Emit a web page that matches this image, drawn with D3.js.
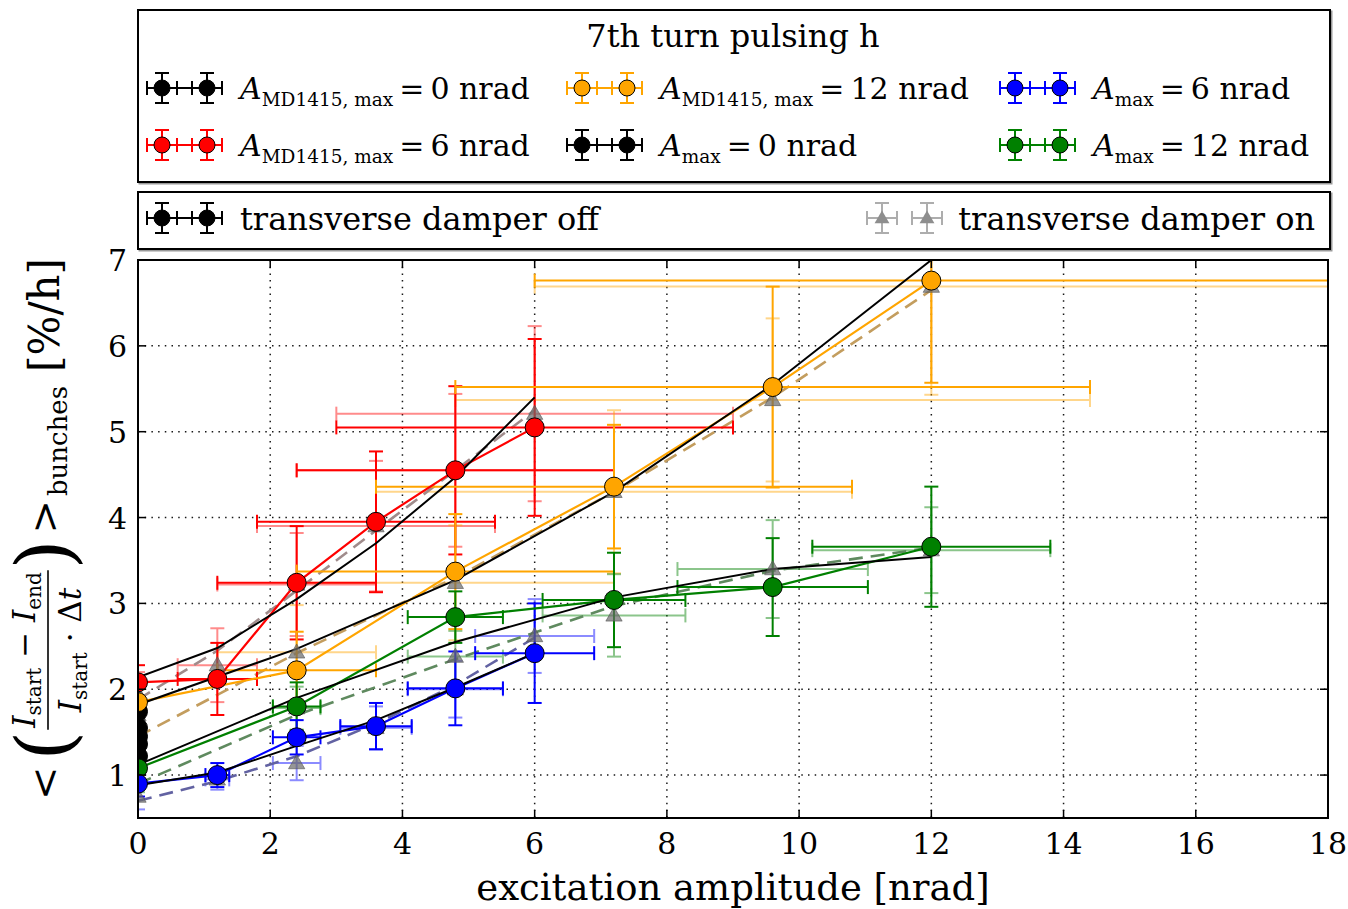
<!DOCTYPE html>
<html>
<head>
<meta charset="utf-8">
<script src="https://cdn.jsdelivr.net/npm/d3@7"></script>
<style>
  html, body { margin: 0; padding: 0; background: #ffffff; }
  svg { display: block; }
  text { font-family: "DejaVu Serif", "Liberation Serif", serif; fill: #000; }
</style>
</head>
<body>
<svg id="chart" width="1348" height="909"></svg>
<script>
// ---------------- data ----------------
const xTicks = [0, 2, 4, 6, 8, 10, 12, 14, 16, 18];
const yTicks = [1, 2, 3, 4, 5, 6, 7];

const legendTitle = "7th turn pulsing h";

// excitation amplitudes [nrad]
const ampZeroMD = [0, 0, 0];
const ampZeroA  = [0, 0];
const ampMD6  = [0, 1.2, 2.4, 3.6, 4.8, 6];
const ampMD12 = [0, 2.4, 4.8, 7.2, 9.6, 12];
const ampA6   = [0, 1.2, 2.4, 3.6, 4.8, 6];
const ampA12  = [0, 2.4, 4.8, 7.2, 9.6, 12];

// A_MD1415,max = 0 nrad (repeated runs without excitation)
const md0Off = [1.74, 1.55, 1.36], md0OffErr = [0.10, 0.10, 0.10];
const md0On  = [1.70, 1.50, 1.32], md0OnErr  = [0.12, 0.12, 0.12];
// A_max = 0 nrad
const a0Off = [1.45, 1.22], a0OffErr = [0.08, 0.08];
const a0On  = [1.40, 1.18], a0OnErr  = [0.10, 0.10];

// A_MD1415,max = 6 nrad
const md6Off    = [2.08, 2.12, 3.24, 3.95, 4.55, 5.05];
const md6OffErr = [0.20, 0.42, 0.66, 0.82, 0.98, 1.03];
const md6On     = [1.95, 2.28, 3.22, 3.90, 4.55, 5.21];
const md6OnErr  = [0.25, 0.43, 0.60, 0.76, 0.89, 1.02];
const md6FitOff = [2.14, 2.48, 3.05, 3.70, 4.47, 5.40];
const md6FitOn  = [1.88, 2.45, 3.15, 3.85, 4.55, 5.25];

// A_MD1415,max = 12 nrad
const md12Off    = [1.85, 2.22, 3.37, 4.36, 5.52, 6.76];
const md12OffErr = [0.15, 0.45, 0.67, 0.72, 1.17, 1.19];
const md12On     = [1.50, 2.43, 3.24, 4.30, 5.37, 6.69];
const md12OnErr  = [0.20, 0.55, 0.67, 0.95, 0.95, 1.26];
const md12FitOff = [1.82, 2.47, 3.27, 4.30, 5.55, 7.00];
const md12FitOn  = [1.45, 2.42, 3.30, 4.30, 5.40, 6.65];

// A_max = 6 nrad
const a6Off    = [0.90, 1.00, 1.44, 1.57, 2.01, 2.42];
const a6OffErr = [0.15, 0.14, 0.20, 0.27, 0.43, 0.58];
const a6On     = [0.75, 0.95, 1.14, 1.55, 2.00, 2.62];
const a6OnErr  = [0.15, 0.12, 0.20, 0.25, 0.33, 0.43];
const a6FitOff = [0.88, 1.03, 1.34, 1.64, 2.02, 2.42];
const a6FitOn  = [0.70, 0.93, 1.22, 1.60, 2.05, 2.60];

// A_max = 12 nrad
const a12Off    = [1.08, 1.80, 2.84, 3.04, 3.19, 3.66];
const a12OffErr = [0.12, 0.28, 0.30, 0.55, 0.57, 0.70];
const a12On     = [0.95, 1.78, 2.38, 2.86, 3.40, 3.62];
const a12OnErr  = [0.15, 0.25, 0.30, 0.48, 0.57, 0.50];
const a12FitOff = [1.12, 1.90, 2.55, 3.07, 3.40, 3.54];
const a12FitOn  = [0.90, 1.70, 2.35, 2.97, 3.38, 3.65];

// relative horizontal error of the amplitude
const xRelMD = 0.5;
const xRelA  = 0.15;

// ---------------- series table ----------------
const series = [
  { amp: ampZeroMD, off: md0Off, offErr: md0OffErr, on: md0On, onErr: md0OnErr, xrel: 0, color: "#000000" },
  { amp: ampZeroA,  off: a0Off,  offErr: a0OffErr,  on: a0On,  onErr: a0OnErr,  xrel: 0, color: "#000000" },
  { amp: ampMD6,  off: md6Off,  offErr: md6OffErr,  on: md6On,  onErr: md6OnErr,  fitOff: md6FitOff,  fitOn: md6FitOn,  xrel: xRelMD, color: "#ff0000", dash: "#a08c8c" },
  { amp: ampMD12, off: md12Off, offErr: md12OffErr, on: md12On, onErr: md12OnErr, fitOff: md12FitOff, fitOn: md12FitOn, xrel: xRelMD, color: "#ffa500", dash: "#c39d5e" },
  { amp: ampA12,  off: a12Off,  offErr: a12OffErr,  on: a12On,  onErr: a12OnErr,  fitOff: a12FitOff,  fitOn: a12FitOn,  xrel: xRelA,  color: "#008000", dash: "#5f8a5f" },
  { amp: ampA6,   off: a6Off,   offErr: a6OffErr,   on: a6On,   onErr: a6OnErr,   fitOff: a6FitOff,   fitOn: a6FitOn,   xrel: xRelA,  color: "#0000ff", dash: "#6262a2" }
];

// ---------------- layout ----------------
const svg = d3.select("#chart");
const plot = { left: 138, right: 1328, top: 260, bottom: 818 };
const x = d3.scaleLinear().domain([0, 18]).range([plot.left, plot.right]);
const y = d3.scaleLinear().domain([0.5, 7]).range([plot.bottom, plot.top]);
const CAP = 7;

svg.append("rect").attr("width", 1348).attr("height", 909).attr("fill", "#fff");

svg.append("defs").append("clipPath").attr("id", "plotclip")
  .append("rect")
  .attr("x", plot.left).attr("y", plot.top)
  .attr("width", plot.right - plot.left).attr("height", plot.bottom - plot.top);

// grid
const grid = svg.append("g").attr("stroke", "#000").attr("stroke-width", 1.5)
  .attr("stroke-dasharray", "1.5,5.2").attr("opacity", 0.9);
xTicks.filter(t => t > 0 && t < 18).forEach(t => {
  grid.append("line").attr("x1", x(t)).attr("x2", x(t)).attr("y1", plot.top).attr("y2", plot.bottom);
});
yTicks.filter(t => t < 7).forEach(t => {
  grid.append("line").attr("x1", plot.left).attr("x2", plot.right).attr("y1", y(t)).attr("y2", y(t));
});

const body = svg.append("g").attr("clip-path", "url(#plotclip)");

function points(s, vals, errs) {
  return s.amp.map((a, i) => ({ x: a, y: vals[i], xe: a * s.xrel, ye: errs[i] }));
}

function errorbars(g, pts, color, opacity) {
  const eg = g.append("g").attr("stroke", color).attr("stroke-width", 2).attr("opacity", opacity).attr("fill", "none");
  pts.forEach(p => {
    if (p.xe > 0) {
      const x0 = x(p.x - p.xe), x1 = x(p.x + p.xe), yy = y(p.y);
      eg.append("line").attr("x1", x0).attr("x2", x1).attr("y1", yy).attr("y2", yy);
      eg.append("line").attr("x1", x0).attr("x2", x0).attr("y1", yy - CAP).attr("y2", yy + CAP);
      eg.append("line").attr("x1", x1).attr("x2", x1).attr("y1", yy - CAP).attr("y2", yy + CAP);
    }
    const xx = x(p.x), y0 = y(p.y - p.ye), y1 = y(p.y + p.ye);
    eg.append("line").attr("x1", xx).attr("x2", xx).attr("y1", y0).attr("y2", y1);
    eg.append("line").attr("x1", xx - CAP).attr("x2", xx + CAP).attr("y1", y0).attr("y2", y0);
    eg.append("line").attr("x1", xx - CAP).attr("x2", xx + CAP).attr("y1", y1).attr("y2", y1);
  });
}

const line = d3.line().x(d => x(d[0])).y(d => y(d[1]));
const tri = d3.symbol().type(d3.symbolTriangle).size(115);

// damper on: error bars
series.forEach(s => errorbars(body, points(s, s.on, s.onErr), s.color, 0.45));
// damper on: dashed fits
series.filter(s => s.fitOn).forEach(s => {
  body.append("path").attr("d", line(s.amp.map((a, i) => [a, s.fitOn[i]])))
    .attr("fill", "none").attr("stroke", s.dash).attr("stroke-width", 2.6)
    .attr("stroke-dasharray", "14,8");
});
// damper off: error bars
series.forEach(s => errorbars(body, points(s, s.off, s.offErr), s.color, 1));
// damper off: connecting lines
series.filter(s => s.amp.length > 1).forEach(s => {
  body.append("path").attr("d", line(s.amp.map((a, i) => [a, s.off[i]])))
    .attr("fill", "none").attr("stroke", s.color).attr("stroke-width", 2.2);
});
// damper off: fits
series.filter(s => s.fitOff).forEach(s => {
  body.append("path").attr("d", line(s.amp.map((a, i) => [a, s.fitOff[i]])))
    .attr("fill", "none").attr("stroke", "#000").attr("stroke-width", 2);
});
// damper on: triangles
series.forEach(s => {
  s.amp.forEach((a, i) => {
    body.append("path").attr("d", tri)
      .attr("transform", `translate(${x(a)},${y(s.on[i]) + 1})`)
      .attr("fill", "#6a6a6a").attr("fill-opacity", 0.7)
      .attr("stroke", "#555").attr("stroke-opacity", 0.6).attr("stroke-width", 1);
  });
});
// damper off: circles
series.forEach(s => {
  s.amp.forEach((a, i) => {
    body.append("circle").attr("cx", x(a)).attr("cy", y(s.off[i])).attr("r", 9.5)
      .attr("fill", s.color).attr("stroke", "#000").attr("stroke-width", 1);
  });
});

// frame
svg.append("rect").attr("x", plot.left).attr("y", plot.top)
  .attr("width", plot.right - plot.left).attr("height", plot.bottom - plot.top)
  .attr("fill", "none").attr("stroke", "#000").attr("stroke-width", 2);

// inward ticks on all four sides
const tk = svg.append("g").attr("stroke", "#000").attr("stroke-width", 1.5);
xTicks.forEach(t => {
  tk.append("line").attr("x1", x(t)).attr("x2", x(t)).attr("y1", plot.bottom).attr("y2", plot.bottom - 8);
  tk.append("line").attr("x1", x(t)).attr("x2", x(t)).attr("y1", plot.top).attr("y2", plot.top + 8);
});
yTicks.forEach(t => {
  tk.append("line").attr("x1", plot.left).attr("x2", plot.left + 8).attr("y1", y(t)).attr("y2", y(t));
  tk.append("line").attr("x1", plot.right).attr("x2", plot.right - 8).attr("y1", y(t)).attr("y2", y(t));
});

// tick labels
svg.append("g").selectAll("text").data(xTicks).join("text")
  .attr("x", d => x(d)).attr("y", 854).attr("text-anchor", "middle")
  .attr("font-size", 30).text(d => d);
svg.append("g").selectAll("text").data(yTicks).join("text")
  .attr("x", 127).attr("y", d => y(d) + 11).attr("text-anchor", "end")
  .attr("font-size", 30).text(d => d);

// x label
svg.append("text").attr("x", 733).attr("y", 900).attr("text-anchor", "middle")
  .attr("font-size", 37).text("excitation amplitude [nrad]");

// y label (rotated math expression)
(function () {
  const g = svg.append("g");
  const items = [];
  function txt(size, v, str) {
    return g.append("text").attr("font-size", size).attr("y", v).text(str);
  }
  function add(el, gap) { items.push({ el, w: el.node().getComputedTextLength(), gap }); }

  add(txt(40, 0, "<"), 6);
  add(txt(76, 13, "("), 0);

  const num = g.append("text").attr("font-size", 31).attr("y", -23).attr("text-anchor", "middle");
  num.append("tspan").attr("font-style", "italic").text("I");
  num.append("tspan").attr("font-size", 20).attr("dy", 6).text("start");
  num.append("tspan").attr("dy", -6).text(" − ");
  num.append("tspan").attr("font-style", "italic").text("I");
  num.append("tspan").attr("font-size", 20).attr("dy", 6).text("end");
  const den = g.append("text").attr("font-size", 31).attr("y", 23).attr("text-anchor", "middle");
  den.append("tspan").attr("font-style", "italic").text("I");
  den.append("tspan").attr("font-size", 20).attr("dy", 6).text("start");
  den.append("tspan").attr("dy", -6).text(" · Δ");
  den.append("tspan").attr("font-style", "italic").text("t");
  const fw = Math.max(num.node().getComputedTextLength(), den.node().getComputedTextLength()) + 6;
  const bar = g.append("line").attr("y1", -10).attr("y2", -10).attr("stroke", "#000").attr("stroke-width", 1.6);
  items.push({ frac: true, num, den, bar, w: fw, gap: 0 });

  add(txt(76, 13, ")"), 6);
  add(txt(40, 0, ">"), 4);
  add(txt(26, 9, "bunches"), 14);
  add(txt(42, 1, "[%/h]"), 0);

  let u = 0;
  items.forEach(it => {
    if (it.frac) {
      it.num.attr("x", u + it.w / 2);
      it.den.attr("x", u + it.w / 2);
      it.bar.attr("x1", u + 1).attr("x2", u + it.w - 1);
    } else {
      it.el.attr("x", u);
    }
    u += it.w + it.gap;
  });
  const total = u;
  g.attr("transform", `translate(58, ${529 + total / 2}) rotate(-90)`);
})();

// ---------------- legends ----------------
function legendBox(x0, y0, w, h) {
  svg.append("rect").attr("x", x0 + 1.5).attr("y", y0 + 1.5).attr("width", w).attr("height", h)
    .attr("fill", "none").attr("stroke", "#9a9a9a").attr("stroke-width", 2);
  svg.append("rect").attr("x", x0).attr("y", y0).attr("width", w).attr("height", h)
    .attr("fill", "#fff").attr("stroke", "#000").attr("stroke-width", 2);
}

function handle(cx1, cx2, cy, color, kind, opacity) {
  const g = svg.append("g").attr("opacity", opacity);
  const hg = g.append("g").attr("stroke", color).attr("stroke-width", 2).attr("fill", "none");
  [cx1, cx2].forEach(c => {
    hg.append("line").attr("x1", c - 15).attr("x2", c + 15).attr("y1", cy).attr("y2", cy);
    hg.append("line").attr("x1", c - 15).attr("x2", c - 15).attr("y1", cy - CAP).attr("y2", cy + CAP);
    hg.append("line").attr("x1", c + 15).attr("x2", c + 15).attr("y1", cy - CAP).attr("y2", cy + CAP);
    hg.append("line").attr("x1", c).attr("x2", c).attr("y1", cy - 15).attr("y2", cy + 15);
    hg.append("line").attr("x1", c - CAP).attr("x2", c + CAP).attr("y1", cy - 15).attr("y2", cy - 15);
    hg.append("line").attr("x1", c - CAP).attr("x2", c + CAP).attr("y1", cy + 15).attr("y2", cy + 15);
  });
  if (kind === "circle") {
    hg.append("line").attr("x1", cx1).attr("x2", cx2).attr("y1", cy).attr("y2", cy);
    [cx1, cx2].forEach(c => g.append("circle").attr("cx", c).attr("cy", cy).attr("r", 8)
      .attr("fill", color).attr("stroke", "#000").attr("stroke-width", 1));
  } else {
    [cx1, cx2].forEach(c => g.append("path").attr("d", d3.symbol().type(d3.symbolTriangle).size(95))
      .attr("transform", `translate(${c},${cy + 1})`).attr("fill", "#444"));
  }
}

function mathLabel(tx, ty, sub, value) {
  const t = svg.append("text").attr("x", tx).attr("y", ty).attr("font-size", 30);
  t.append("tspan").attr("font-style", "italic").text("A");
  t.append("tspan").attr("font-size", 18.5).attr("dy", 7).text(sub);
  t.append("tspan").attr("dy", -7).text("\u2009=\u2009" + value + " nrad");
}

legendBox(138, 10, 1192, 172);
svg.append("text").attr("x", 733).attr("y", 47).attr("text-anchor", "middle")
  .attr("font-size", 32).text(legendTitle);

const legendEntries = [
  { tx: 240,  ty: 99,  color: "#000000", sub: "MD1415, max", value: 0 },
  { tx: 240,  ty: 156, color: "#ff0000", sub: "MD1415, max", value: 6 },
  { tx: 660,  ty: 99,  color: "#ffa500", sub: "MD1415, max", value: 12 },
  { tx: 660,  ty: 156, color: "#000000", sub: "max", value: 0 },
  { tx: 1093, ty: 99,  color: "#0000ff", sub: "max", value: 6 },
  { tx: 1093, ty: 156, color: "#008000", sub: "max", value: 12 }
];
legendEntries.forEach(e => {
  handle(e.tx - 78, e.tx - 33, e.ty - 11, e.color, "circle", 1);
  mathLabel(e.tx, e.ty, e.sub, e.value);
});

legendBox(138, 192, 1192, 57);
handle(162, 207, 218, "#000", "circle", 1);
svg.append("text").attr("x", 240).attr("y", 230).attr("font-size", 32).text("transverse damper off");
handle(882, 927, 218, "#777", "triangle", 0.6);
svg.append("text").attr("x", 1315).attr("y", 230).attr("text-anchor", "end").attr("font-size", 32)
  .text("transverse damper on");
</script>
</body>
</html>
